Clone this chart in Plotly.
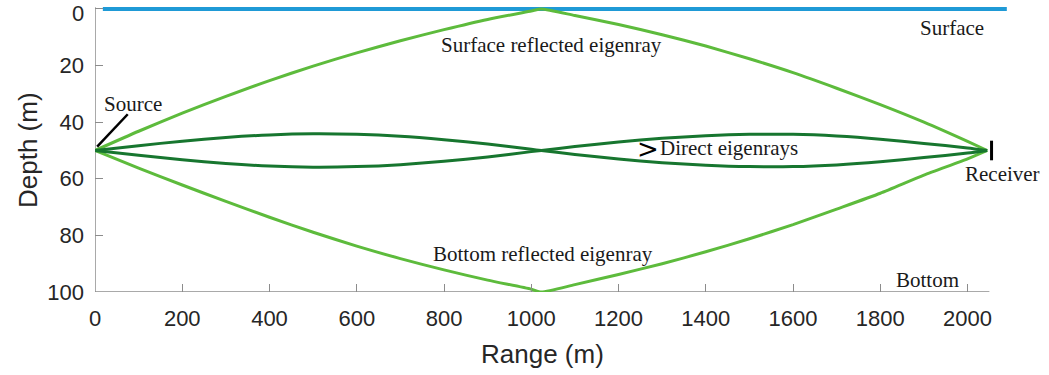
import plotly.graph_objects as go

# ---- data ----
range_m = [0, 100, 200, 300, 400, 500, 600, 700, 800, 900, 1000, 1023,
           1100, 1200, 1300, 1400, 1500, 1600, 1700, 1800, 1900, 2000, 2045]

direct_upper_first = [50, 48.3, 46.7, 45.4, 44.5, 44.1, 44.3, 45.0, 46.2, 47.7, 49.6, 50,
                      51.4, 53.0, 54.3, 55.2, 55.7, 55.7, 55.1, 54.0, 52.5, 50.9, 50]
direct_lower_first = [50, 51.7, 53.3, 54.6, 55.5, 55.9, 55.7, 55.0, 53.8, 52.3, 50.4, 50,
                      48.6, 47.0, 45.7, 44.8, 44.3, 44.3, 44.9, 46.0, 47.5, 49.1, 50]
surface_reflected = [50, 43.2, 36.8, 30.9, 25.3, 20.2, 15.5, 11.2, 7.3, 3.7, 0.7, 0,
                     2.3, 5.5, 9.1, 13.1, 17.6, 22.5, 28.0, 33.8, 40.0, 46.8, 50]
bottom_reflected = [50, 56.2, 62.2, 68.0, 73.6, 78.9, 83.8, 88.2, 92.2, 95.8, 99.0, 100,
                    97.4, 93.8, 90.0, 85.8, 81.2, 76.2, 70.7, 65.1, 58.7, 53.0, 50]

surface_x = [18, 2090]
surface_depth = [0, 0]

receiver_pos = (2055, 50)

x_ticks = [0, 200, 400, 600, 800, 1000, 1200, 1400, 1600, 1800, 2000]
y_ticks = [0, 20, 40, 60, 80, 100]
y_tick_labels = ["0", "20", "40", "60", "80", "100"]

# ---- styles ----
BLUE = "#1F9AD6"
LIGHT_GREEN = "#5DBB3C"
DARK_GREEN = "#17762F"
AXIS_GRAY = "#8C8C8C"
TEXT_DARK = "#262626"
SERIF = "Liberation Serif, Times New Roman, serif"
SANS = "Liberation Sans, Arial, Helvetica, sans-serif"

# plot area in pixels
ML, MR, MT, MB = 95, 40, 7, 83
PW = 1049 - ML - MR
PH = 375 - MT - MB

fig = go.Figure()

spline = dict(shape="spline", smoothing=0.6)
fig.add_trace(go.Scatter(x=surface_x, y=surface_depth, mode="lines",
                         line=dict(color=BLUE, width=4), hoverinfo="skip"))
fig.add_trace(go.Scatter(x=range_m, y=surface_reflected, mode="lines",
                         line=dict(color=LIGHT_GREEN, width=3, **spline)))
fig.add_trace(go.Scatter(x=range_m, y=bottom_reflected, mode="lines",
                         line=dict(color=LIGHT_GREEN, width=3, **spline)))
fig.add_trace(go.Scatter(x=range_m, y=direct_upper_first, mode="lines",
                         line=dict(color=DARK_GREEN, width=3, **spline)))
fig.add_trace(go.Scatter(x=range_m, y=direct_lower_first, mode="lines",
                         line=dict(color=DARK_GREEN, width=3, **spline)))
fig.add_trace(go.Scatter(x=[receiver_pos[0]], y=[receiver_pos[1]], mode="markers",
                         marker=dict(symbol="line-ns", size=14,
                                     line=dict(color="black", width=3)),
                         cliponaxis=False))

# axis lines (left and bottom only, bottom ends at ~2050 like the reference)
fig.add_shape(type="line", x0=0, x1=0, y0=100, y1=-0.6, xref="x", yref="y",
              line=dict(color=AXIS_GRAY, width=1.5), layer="below")
fig.add_shape(type="line", x0=0, x1=2050, y0=100, y1=100, xref="x", yref="y",
              line=dict(color=AXIS_GRAY, width=1.5), layer="below")

# source pointer
fig.add_shape(type="line", x0=5, y0=48.6, x1=75, y1=37.2, xref="x", yref="y",
              line=dict(color="black", width=2.5))

txt = dict(family=SERIF, size=21, color="#1a1a1a")
ann = [
    dict(x=1047, y=12.9, text="Surface reflected eigenray"),
    dict(x=1026, y=86.6, text="Bottom reflected eigenray"),
    dict(x=1965, y=6.6, text="Surface"),
    dict(x=1908, y=95.6, text="Bottom"),
    dict(x=2080, y=58.3, text="Receiver"),
    dict(x=88, y=33.4, text="Source"),
]
for a in ann:
    fig.add_annotation(x=a["x"], y=a["y"], text=a["text"], showarrow=False,
                       xref="x", yref="y", font=txt, xanchor="center", yanchor="middle")
fig.add_annotation(x=1238, y=49.4, text=">", showarrow=False, xref="x", yref="y",
                   font=dict(family="DejaVu Sans", size=26, color="black"),
                   xanchor="left", yanchor="middle")
fig.add_annotation(x=1290, y=49.0, text="Direct eigenrays", showarrow=False,
                   xref="x", yref="y", font=txt, xanchor="left", yanchor="middle")

# axis titles (placed at their pixel positions in the reference)
title_font = dict(family=SANS, size=26, color=TEXT_DARK)
fig.add_annotation(x=(28 - ML) / PW, y=(375 - MB - 150) / PH, xref="paper", yref="paper",
                   text="Depth (m)", showarrow=False, textangle=-90, font=title_font,
                   xanchor="center", yanchor="middle")
fig.add_annotation(x=(542 - ML) / PW, y=(375 - MB - 354) / PH, xref="paper", yref="paper",
                   text="Range (m)", showarrow=False, font=title_font,
                   xanchor="center", yanchor="middle")

tick_font = dict(family=SANS, size=22, color=TEXT_DARK)

# the top "0" label sits right at the page edge in the reference; draw it as text
fig.add_annotation(x=(85 - ML) / PW, y=(375 - MB) / PH, xref="paper", yref="paper",
                   text=y_tick_labels[0], showarrow=False, font=tick_font,
                   xanchor="right", yanchor="top", borderpad=0)

fig.update_layout(
    width=1049, height=375,
    margin=dict(l=ML, r=MR, t=MT, b=MB, autoexpand=False),
    paper_bgcolor="white", plot_bgcolor="white",
    showlegend=False,
    xaxis=dict(range=[0, 2095], tickvals=x_ticks, ticks="inside", ticklen=8,
               tickcolor=AXIS_GRAY, tickwidth=1, showline=False, showgrid=False,
               zeroline=False, ticklabelstandoff=11, ticklabeloverflow="allow",
               automargin=False, tickfont=tick_font),
    yaxis=dict(range=[100, -0.7], tickvals=y_ticks,
               ticktext=[""] + y_tick_labels[1:], ticks="inside", ticklen=8,
               tickcolor=AXIS_GRAY, tickwidth=1, showline=False, showgrid=False,
               zeroline=False, ticklabelstandoff=10, ticklabeloverflow="allow",
               automargin=False, tickfont=tick_font),
)

fig.write_html("out.html")
